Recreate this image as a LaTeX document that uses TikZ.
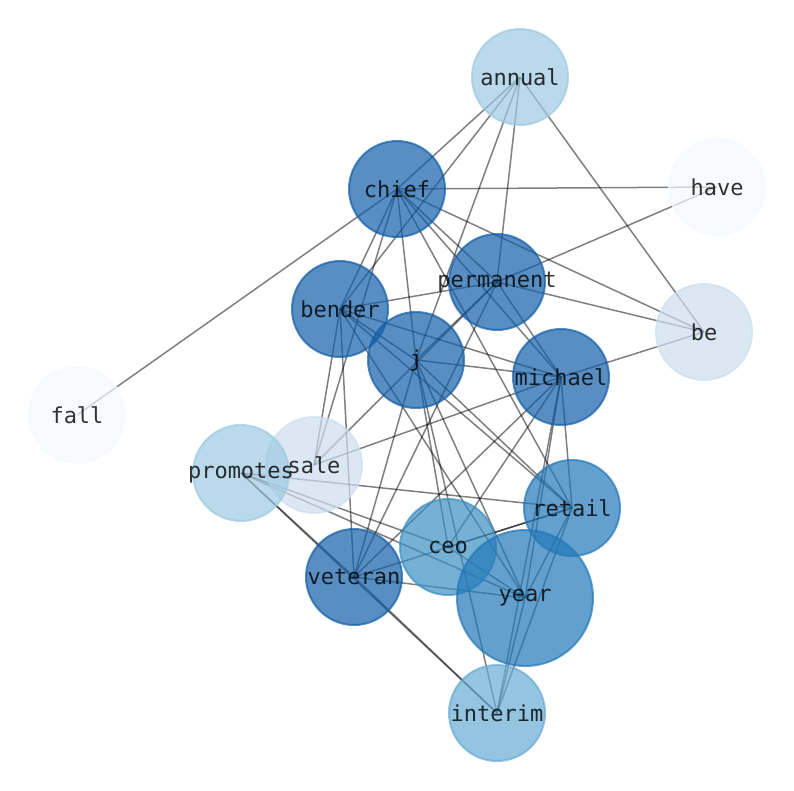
\documentclass[tikz,border=0pt]{standalone}
\usepackage{fontspec}
\newfontfamily\mono{DejaVu Sans Mono}
\usetikzlibrary{backgrounds}
\definecolor{azulA}{RGB}{18,94,168}
\definecolor{azulB}{RGB}{34,120,185}
\definecolor{azulC}{RGB}{59,142,195}
\definecolor{azulD}{RGB}{102,171,211}
\definecolor{azulE}{RGB}{157,201,225}
\definecolor{azulF}{RGB}{204,222,240}
\definecolor{azulG}{RGB}{244,249,255}
\tikzset{
	no/.style={circle, minimum size=96pt, inner sep=0pt, line width=2pt, fill=#1, draw=#1, fill opacity=0.7, draw opacity=0.7},
	rotulo/.style={font=\mono\fontsize{22}{26}\selectfont, text=black, text opacity=0.8, inner sep=0pt},
	aresta/.style={draw=black, draw opacity=0.5, line width=1.5pt}
}
\begin{document}
\begin{tikzpicture}[x=1pt, y=-1pt] %Início do desenho, 1pt por pixel
	\useasboundingbox (0,0) rectangle (794,790);
		%Nós
	\node[no=azulE] (annual) at (520,77) {};
	\node[no=azulA] (chief) at (397,189) {};
	\node[no=azulG] (have) at (717,187) {};
	\node[no=azulA] (permanent) at (497,282) {};
	\node[no=azulA] (bender) at (340,309) {};
	\node[no=azulF] (be) at (704,332) {};
	\node[no=azulA] (j) at (416,360) {};
	\node[no=azulA] (michael) at (561,377) {};
	\node[no=azulG] (fall) at (77,415) {};
	\node[no=azulF] (sale) at (314,465) {};
	\node[no=azulE] (promotes) at (241,473) {};
	\node[no=azulB] (retail) at (572,508) {};
	\node[no=azulC] (ceo) at (448,547) {};
	\node[no=azulA] (veteran) at (354,577) {};
	\node[no=azulB, minimum size=136pt] (year) at (525,598) {};
	\node[no=azulD] (interim) at (497,713) {};
		%Arestas
	\begin{pgfonlayer}{background}
	\draw[aresta] (annual.center) -- (chief.center);
	\draw[aresta] (annual.center) -- (bender.center);
	\draw[aresta] (annual.center) -- (j.center);
	\draw[aresta] (annual.center) -- (permanent.center);
	\draw[aresta] (annual.center) -- (be.center);
	\draw[aresta] (chief.center) -- (have.center);
	\draw[aresta] (chief.center) -- (fall.center);
	\draw[aresta] (chief.center) -- (be.center);
	\draw[aresta] (chief.center) -- (bender.center);
	\draw[aresta] (chief.center) -- (sale.center);
	\draw[aresta] (chief.center) -- (j.center);
	\draw[aresta] (chief.center) -- (permanent.center);
	\draw[aresta] (chief.center) -- (michael.center);
	\draw[aresta] (chief.center) -- (retail.center);
	\draw[aresta] (permanent.center) -- (have.center);
	\draw[aresta] (permanent.center) -- (be.center);
	\draw[aresta] (permanent.center) -- (bender.center);
	\draw[aresta] (permanent.center) -- (j.center);
	\draw[aresta] (permanent.center) -- (sale.center);
	\draw[aresta] (permanent.center) -- (michael.center);
	\draw[aresta] (permanent.center) -- (veteran.center);
	\draw[aresta] (bender.center) -- (j.center);
	\draw[aresta] (bender.center) -- (michael.center);
	\draw[aresta] (bender.center) -- (retail.center);
	\draw[aresta] (bender.center) -- (sale.center);
	\draw[aresta] (bender.center) -- (veteran.center);
	\draw[aresta] (bender.center) -- (year.center);
	\draw[aresta] (j.center) -- (michael.center);
	\draw[aresta] (j.center) -- (retail.center);
	\draw[aresta] (j.center) -- (veteran.center);
	\draw[aresta] (j.center) -- (ceo.center);
	\draw[aresta] (j.center) -- (year.center);
	\draw[aresta] (j.center) -- (interim.center);
	\draw[aresta] (michael.center) -- (be.center);
	\draw[aresta] (michael.center) -- (sale.center);
	\draw[aresta] (michael.center) -- (veteran.center);
	\draw[aresta] (michael.center) -- (ceo.center);
	\draw[aresta] (michael.center) -- (retail.center);
	\draw[aresta] (michael.center) -- (year.center);
	\draw[aresta] (michael.center) -- (interim.center);
	\draw[aresta] (promotes.center) -- (retail.center);
	\draw[aresta] (promotes.center) -- (ceo.center);
	\draw[aresta] (promotes.center) -- (year.center);
	\draw[aresta] (promotes.center) -- (veteran.center);
	\draw[aresta] (promotes.center) -- (interim.center);
	\draw[aresta] (veteran.center) -- (interim.center);
	\draw[aresta] (retail.center) -- (ceo.center);
	\draw[aresta] (retail.center) -- (veteran.center);
	\draw[aresta] (retail.center) -- (year.center);
	\draw[aresta] (retail.center) -- (interim.center);
	\draw[aresta] (ceo.center) -- (year.center);
	\draw[aresta] (veteran.center) -- (year.center);
	\draw[aresta] (year.center) -- (interim.center);
	\end{pgfonlayer}
		%Rótulos
	\node[rotulo] (annual-r) at (annual) {annual};
	\node[rotulo] (chief-r) at (chief) {chief};
	\node[rotulo] (have-r) at (have) {have};
	\node[rotulo] (permanent-r) at (permanent) {permanent};
	\node[rotulo] (bender-r) at (bender) {bender};
	\node[rotulo] (be-r) at (be) {be};
	\node[rotulo] (j-r) at (j) {j};
	\node[rotulo] (michael-r) at (michael) {michael};
	\node[rotulo] (fall-r) at (fall) {fall};
	\node[rotulo] (sale-r) at (sale) {sale};
	\node[rotulo] (promotes-r) at (promotes) {promotes};
	\node[rotulo] (retail-r) at (retail) {retail};
	\node[rotulo] (ceo-r) at (ceo) {ceo};
	\node[rotulo] (veteran-r) at (veteran) {veteran};
	\node[rotulo] (year-r) at (year) {year};
	\node[rotulo] (interim-r) at (interim) {interim};
\end{tikzpicture}
\end{document}
